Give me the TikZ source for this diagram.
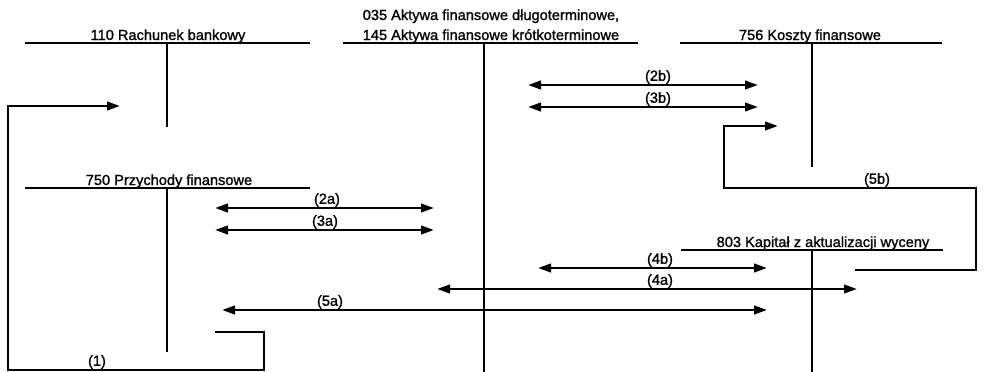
\documentclass[tikz,border=0pt]{standalone}
\usepackage{fontspec}
\setmainfont{Liberation Sans}
\newfontfamily\diafont{Liberation Sans}[FakeBold=1.2]
\usetikzlibrary{arrows.meta}
\begin{document}
\begin{tikzpicture}[x=1pt,y=-1pt,
  tline/.style={line width=2.6pt},
  flow/.style={line width=2.5pt,-{Triangle[length=13pt,width=8.5pt]}},
  both/.style={line width=2.5pt,{Triangle[length=13pt,width=8.5pt]}-{Triangle[length=13pt,width=8.5pt]}},
  title/.style={anchor=base,inner sep=0pt,font=\diafont\fontsize{14.6}{16}\selectfont},
  lbl/.style={anchor=south,inner sep=0pt,yshift=1pt,font=\diafont\fontsize{14.6}{16}\selectfont}]
\useasboundingbox (0,0) rectangle (988,372);
% T-accounts
\node[title] (t110) at (168,40) {110 Rachunek bankowy};
\draw[tline] (25,43) -- (310,43) (167,43) -- (167,127);
\node[title] (t035) at (491,20) {035 Aktywa finansowe długoterminowe,};
\node[title] (t145) at (491,40) {145 Aktywa finansowe krótkoterminowe};
\draw[tline] (343,43) -- (638,43) (484,43) -- (484,372);
\node[title] (t756) at (810,40) {756 Koszty finansowe};
\draw[tline] (680,43) -- (942,43) (812,43) -- (812,167);
\node[title] (t750) at (169,185) {750 Przychody finansowe};
\draw[tline] (25,188) -- (310,188) (167,188) -- (167,352);
\node[title] (t803) at (823,247) {803 Kapitał z aktualizacji wyceny};
\draw[tline] (681,250) -- (943,250) (812,250) -- (812,372);
% coordinates
\coordinate (a1s) at (215,332);
\coordinate (a1e) at (120,106);
\coordinate (b2l) at (528,85); \coordinate (b2r) at (758,85);
\coordinate (b3l) at (528,107); \coordinate (b3r) at (758,107);
\coordinate (a2l) at (215,208); \coordinate (a2r) at (434,208);
\coordinate (a3l) at (215,230); \coordinate (a3r) at (434,230);
\coordinate (b4l) at (538,268); \coordinate (b4r) at (767,268);
\coordinate (a4l) at (437,289); \coordinate (a4r) at (857,289);
\coordinate (a5l) at (222,310); \coordinate (a5r) at (767,310);
\coordinate (b5s) at (855,270); \coordinate (b5e) at (778,126);
% (1)
\draw[flow] (a1s) -- (264,332) -- (264,370) -- (8,370) -- (8,106) -- (a1e);
\node[lbl] (l1) at (97,370) {(1)};
% double arrows
\draw[both] (b2l) -- (b2r); \node[lbl] (l2b) at (658,85) {(2b)};
\draw[both] (b3l) -- (b3r); \node[lbl] (l3b) at (658,107) {(3b)};
\draw[both] (a2l) -- (a2r); \node[lbl] (l2a) at (327,208) {(2a)};
\draw[both] (a3l) -- (a3r); \node[lbl] (l3a) at (325,230) {(3a)};
\draw[both] (b4l) -- (b4r); \node[lbl] (l4b) at (660,268) {(4b)};
\draw[both] (a4l) -- (a4r); \node[lbl] (l4a) at (660,289) {(4a)};
\draw[both] (a5l) -- (a5r); \node[lbl] (l5a) at (330,310) {(5a)};
% (5b)
\draw[flow] (b5s) -- (976,270) -- (976,188) -- (724,188) -- (724,126) -- (b5e);
\node[lbl] (l5b) at (877,188) {(5b)};
\end{tikzpicture}
\end{document}
